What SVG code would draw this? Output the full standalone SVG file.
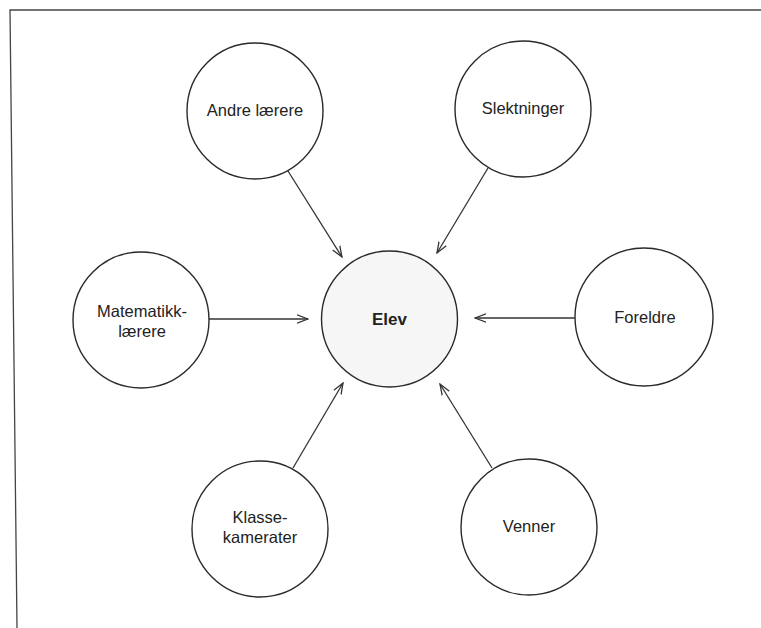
<svg xmlns="http://www.w3.org/2000/svg" width="761" height="628" viewBox="0 0 761 628">
<defs>
<style>
.node{fill:#ffffff;stroke:#2a2a2a;stroke-width:1.4}
.center{fill:#f6f6f6;stroke:#2a2a2a;stroke-width:1.4}
.lbl{font-family:"Liberation Sans",Arial,sans-serif;font-size:16.5px;fill:#222;text-anchor:middle}
.bold{font-weight:bold;font-size:17px}
.edge{stroke:#333;stroke-width:1.3;fill:none;marker-end:url(#arr)}
.frame{stroke:#444;stroke-width:1.3;fill:none}
</style>
<marker id="arr" viewBox="0 0 12 10" refX="11" refY="5" markerWidth="12" markerHeight="10" markerUnits="userSpaceOnUse" orient="auto">
<path d="M0,0.8 L11,5 L0,9.2" fill="none" stroke="#333" stroke-width="1.3"/>
</marker>
</defs>
<rect width="761" height="628" fill="#ffffff"/>
<path class="frame" d="M761,10 L10,10 L17,628"/>
<g id="connectors">
<line class="edge" x1="288" y1="171" x2="342" y2="257"/>
<line class="edge" x1="488" y1="168" x2="437" y2="253"/>
<line class="edge" x1="209" y1="319" x2="308" y2="319"/>
<line class="edge" x1="575" y1="318" x2="475" y2="318"/>
<line class="edge" x1="293" y1="468" x2="343" y2="383"/>
<line class="edge" x1="492" y1="468" x2="440" y2="384"/>
</g>
<g id="elev">
<circle class="center" cx="389.5" cy="319" r="68"/>
<text class="lbl bold" x="389.5" y="325">Elev</text>
</g>
<g id="andre-laerere">
<circle class="node" cx="255" cy="111" r="68"/>
<text class="lbl" x="255" y="116">Andre lærere</text>
</g>
<g id="slektninger">
<circle class="node" cx="523" cy="109" r="68"/>
<text class="lbl" x="523" y="114">Slektninger</text>
</g>
<g id="matematikklaerere">
<circle class="node" cx="141" cy="320" r="68"/>
<text class="lbl" x="142" y="317">Matematikk-</text>
<text class="lbl" x="142" y="337">lærere</text>
</g>
<g id="foreldre">
<circle class="node" cx="644" cy="317" r="69"/>
<text class="lbl" x="645" y="323">Foreldre</text>
</g>
<g id="klassekamerater">
<circle class="node" cx="260" cy="529" r="68"/>
<text class="lbl" x="260" y="523">Klasse-</text>
<text class="lbl" x="260" y="543">kamerater</text>
</g>
<g id="venner">
<circle class="node" cx="529" cy="527" r="68"/>
<text class="lbl" x="529" y="532">Venner</text>
</g>
</svg>
